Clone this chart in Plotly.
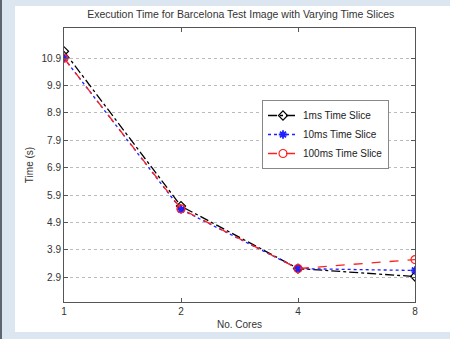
import plotly.graph_objects as go

cores = [1, 2, 4, 8]
t_1ms = [11.15, 5.5, 3.22, 2.93]
t_10ms = [10.9, 5.38, 3.22, 3.15]
t_100ms = [10.9, 5.4, 3.22, 3.55]
y_ticks = [2.9, 3.9, 4.9, 5.9, 6.9, 7.9, 8.9, 9.9, 10.9]
x_ticks = [1, 2, 4, 8]

fig = go.Figure()
fig.add_trace(go.Scatter(x=cores, y=t_1ms, name="1ms Time Slice", mode="lines+markers",
                         line=dict(color="black", dash="dashdot", width=1.3),
                         marker=dict(symbol="diamond-open", size=7, color="black", line=dict(width=1.2))))
fig.add_trace(go.Scatter(x=cores, y=t_10ms, name="10ms Time Slice", mode="lines+markers",
                         line=dict(color="#1f1fff", dash="dot", width=1.3),
                         marker=dict(symbol="asterisk-open", size=7, color="#1f1fff", line=dict(width=1.8, color="#1f1fff"))))
fig.add_trace(go.Scatter(x=cores, y=t_100ms, name="100ms Time Slice", mode="lines+markers",
                         line=dict(color="#ff2020", dash="dash", width=1.3),
                         marker=dict(symbol="circle-open", size=8, color="#ff2020", line=dict(width=1.2))))

W, H = 450, 339
L, R, T, B = 64, 35, 28, 37
pw, ph = W - L - R, H - T - B

def px(x):
    return (x - L) / pw

def py(y):
    return (H - B - y) / ph

fig.update_layout(
    width=W, height=H,
    margin=dict(l=L, r=R, t=T, b=B),
    paper_bgcolor="#dce6f1",
    plot_bgcolor="white",
    font=dict(family="Liberation Sans, Arial, sans-serif", size=10, color="#333"),
    title=dict(text="Execution Time for Barcelona Test Image with Varying Time Slices",
               x=0.535, xanchor="center", y=1 - 14 / H, yanchor="middle",
               font=dict(size=10.5, color="#333")),
    showlegend=True,
    legend=dict(x=px(262), y=py(100), xanchor="left", yanchor="top",
                bgcolor="white", bordercolor="#888", borderwidth=1,
                font=dict(size=10, color="#222"), tracegroupgap=0,
                itemwidth=30),
    shapes=[
        dict(type="rect", xref="paper", yref="paper", x0=px(15), x1=px(451), y0=py(332), y1=py(6),
             fillcolor="white", line=dict(width=0), layer="below"),
        dict(type="rect", xref="paper", yref="paper", x0=px(-1), x1=px(2), y0=py(340), y1=py(-1),
             fillcolor="#5c6670", line=dict(width=0), layer="below"),
    ],
)
fig.update_xaxes(type="log", range=[0, 0.90309], tickvals=x_ticks, ticktext=[str(v) for v in x_ticks],
                 showgrid=False, zeroline=False, showline=True, linecolor="#555", linewidth=1,
                 mirror="allticks", ticks="inside", ticklen=4, tickcolor="#555",
                 title=dict(text="No. Cores", standoff=4, font=dict(size=10)))
fig.update_yaxes(range=[2, 12], tickvals=y_ticks, ticktext=[f"{v:.1f}" for v in y_ticks],
                 showgrid=True, gridcolor="#bbb", griddash="dot", gridwidth=1,
                 zeroline=False, showline=True, linecolor="#555", linewidth=1,
                 mirror="allticks", ticks="inside", ticklen=4, tickcolor="#555",
                 title=dict(text="Time (s)", standoff=6, font=dict(size=10)))

fig.write_html("out.html")
